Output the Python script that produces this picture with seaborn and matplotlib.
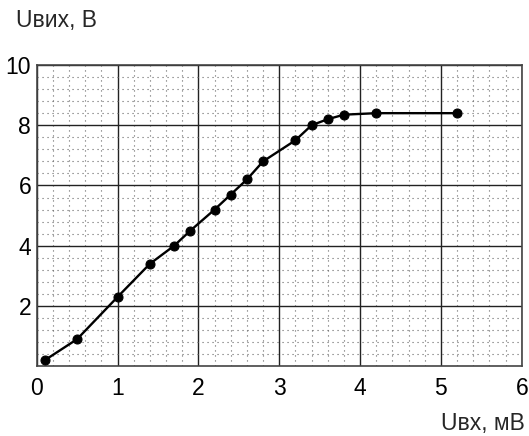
import matplotlib
matplotlib.use("Agg")
import matplotlib.pyplot as plt
from matplotlib.ticker import MultipleLocator
import seaborn as sns

# Input voltage, mV
u_in = [0.1, 0.5, 1.0, 1.4, 1.7, 1.9, 2.2, 2.4, 2.6, 2.8, 3.2, 3.4, 3.6, 3.8, 4.2, 5.2]
# Output voltage, V
u_out = [0.2, 0.9, 2.3, 3.4, 4.0, 4.5, 5.2, 5.7, 6.2, 6.8, 7.5, 8.0, 8.2, 8.35, 8.4, 8.4]

x_ticks = [0, 1, 2, 3, 4, 5, 6]
y_ticks = [2, 4, 6, 8, 10]

sns.set_style("white")
plt.rcParams['font.family'] = ['Liberation Sans', 'DejaVu Sans']

fig = plt.figure(figsize=(5.29, 4.36), dpi=100)
ax = fig.add_axes([0.0694, 0.160, 0.917, 0.691])

sns.lineplot(x=u_in, y=u_out, ax=ax, color='black', linewidth=1.7,
             marker='o', markersize=6.5, markeredgecolor='black', zorder=5)

ax.set_xlim(0, 6)
ax.set_ylim(0, 10)
ax.set_xticks(x_ticks)
ax.set_yticks(y_ticks)
ax.xaxis.set_minor_locator(MultipleLocator(0.2))
ax.yaxis.set_minor_locator(MultipleLocator(0.4))
ax.grid(which='major', color='#222222', linewidth=1.0, linestyle='-')
ax.grid(which='minor', color='#666666', linewidth=0.8, linestyle=(0, (1, 3.5)))
ax.set_axisbelow(True)
ax.tick_params(which='both', length=0, labelsize=16.5, pad=4, colors='black')
ax.tick_params(axis='x', pad=8)
for s in ax.spines.values():
    s.set_color('#444444')
    s.set_linewidth(1.2)
ax.set_xlabel('')
ax.set_ylabel('')

fig.text(16 / 529, 1 - 20 / 436, 'Uвих, В', fontsize=16.5, va='center', ha='left')
fig.text(525 / 529, 1 - 423 / 436, 'Uвх, мВ', fontsize=16.5, va='center', ha='right')

fig.savefig('out.png', dpi=100)
